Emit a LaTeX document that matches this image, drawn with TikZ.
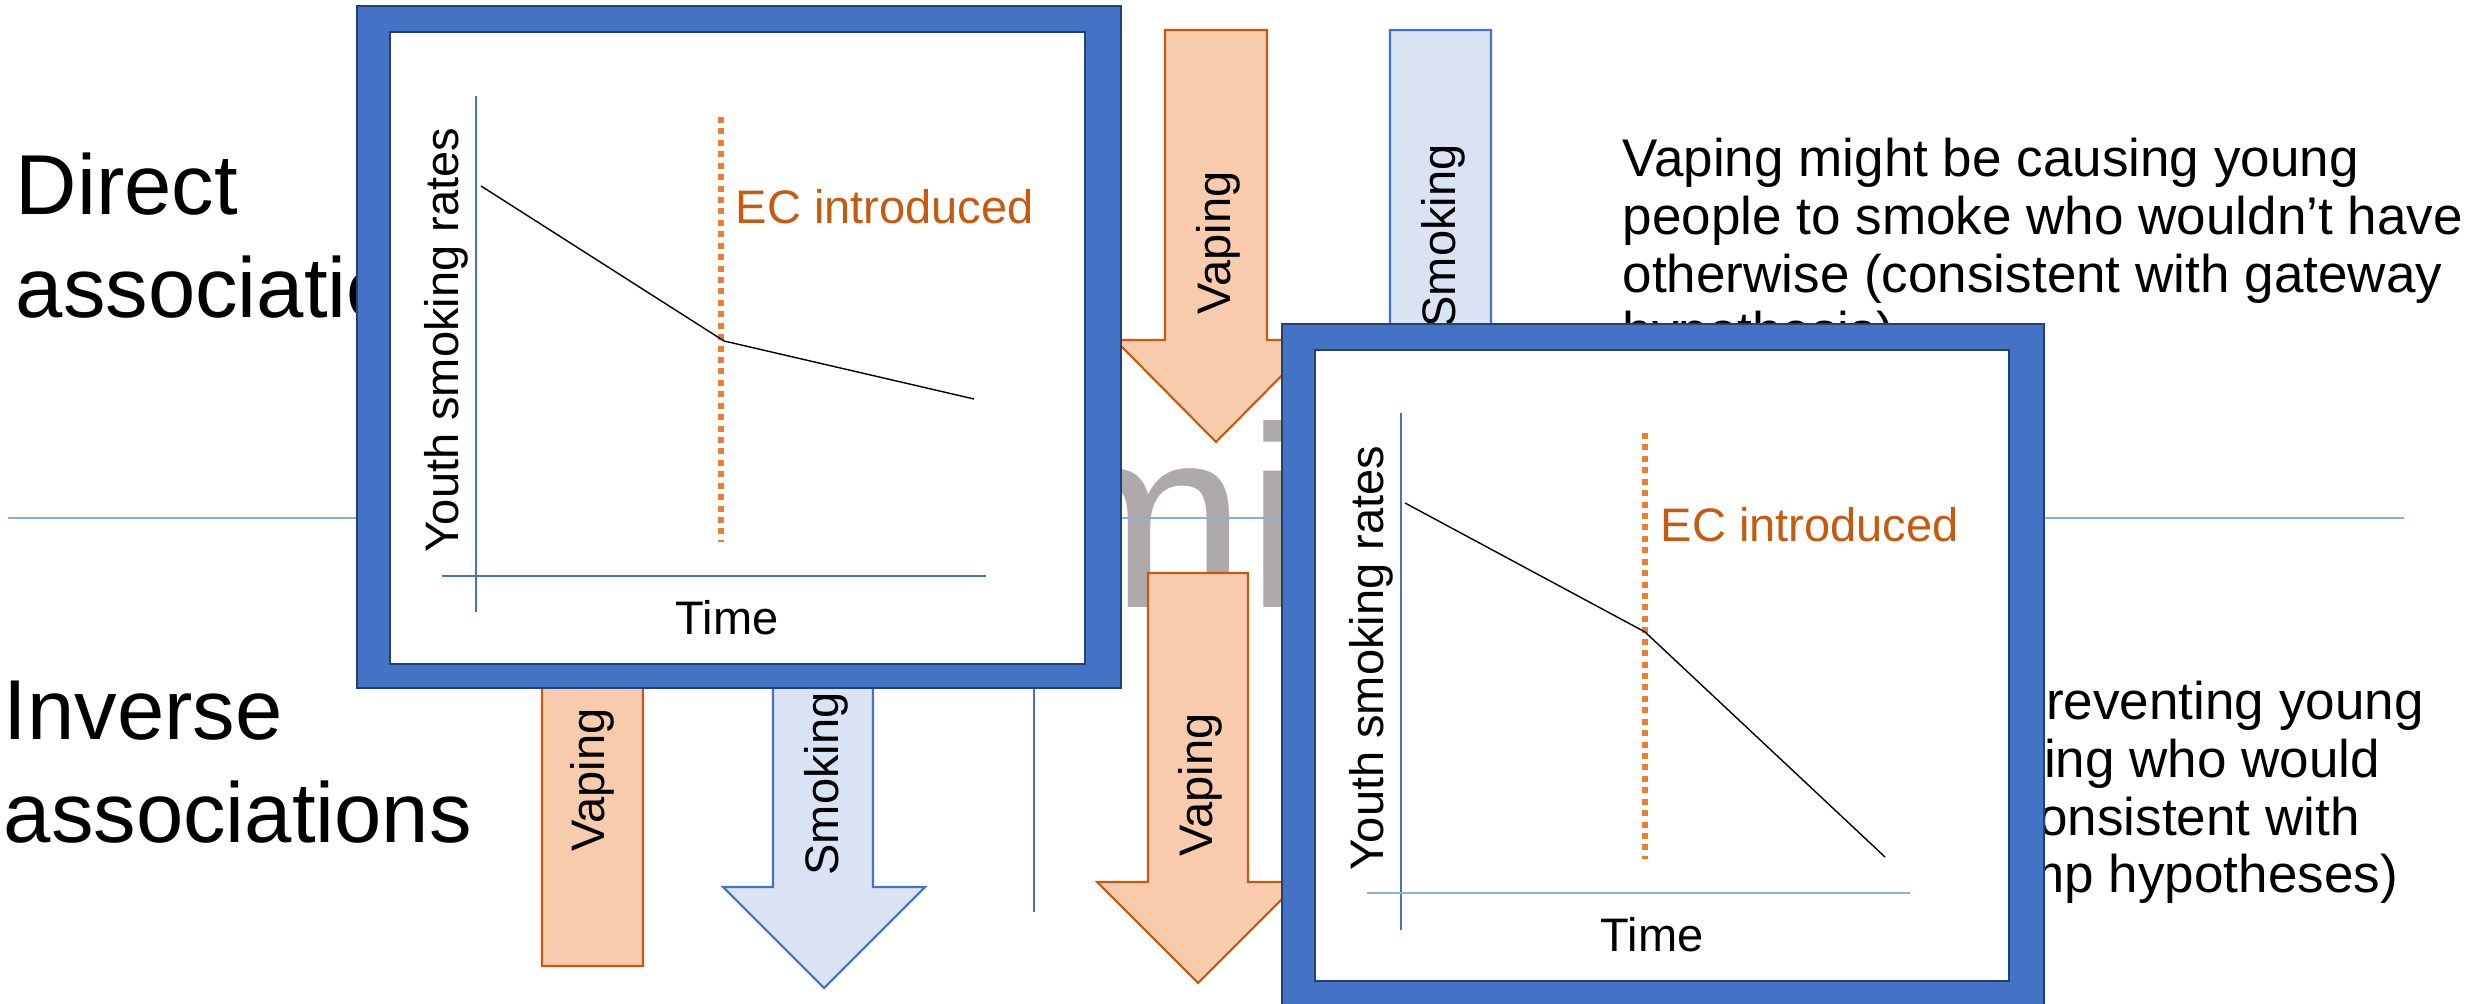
\documentclass[tikz,border=0pt]{standalone}
\usepackage{fontspec}
\setmainfont{Liberation Sans}

\definecolor{frameblue}{HTML}{4472C4}
\definecolor{framedark}{HTML}{24406E}
\definecolor{vapefill}{HTML}{F8CBAD}
\definecolor{vapeline}{HTML}{C55A11}
\definecolor{smokefill}{HTML}{DAE3F3}
\definecolor{smokeline}{HTML}{4472C4}
\definecolor{ecorange}{HTML}{ED7D31}
\definecolor{ecbrown}{HTML}{C55A11}
\definecolor{divblue}{HTML}{8FAADC}
\definecolor{titlegrey}{HTML}{AEAAAA}

\tikzset{
	heading/.style={anchor=base west,inner sep=0,font=\fontsize{24.19pt}{29.02pt}\selectfont},
	remark/.style={anchor=base west,inner sep=0,font=\fontsize{15.08pt}{16.36pt}\selectfont},
	axistext/.style={inner sep=0,font=\fontsize{13.37pt}{16pt}\selectfont},
	ectext/.style={axistext,anchor=west,text=ecbrown},
	arrowtext/.style={axistext,rotate=90},
	vapearrow/.style={fill=vapefill,draw=vapeline,line width=0.6pt},
	smokearrow/.style={fill=smokefill,draw=smokeline,line width=0.6pt},
	frameout/.style={fill=frameblue,draw=framedark,line width=0.8pt},
	framein/.style={fill=white,draw=framedark,line width=0.8pt},
	axisline/.style={draw=frameblue,line width=0.35pt},
	ecline/.style={draw=ecorange,line width=1.7pt,dash pattern=on 1.7pt off 1.55pt},
	trend/.style={draw=black,line width=0.4pt},
	divider/.style={draw=divblue,line width=0.6pt}
}

\begin{document}
\begin{tikzpicture}[x=0.01cm,y=-0.01cm]
	\useasboundingbox (0,0) rectangle (2473,1004);
	% side headings and notes
	\node[heading] (direct) at (15,215) {\parbox[t]{6cm}{Direct\\associations}};
	\node[heading] (inverse) at (3,740) {\parbox[t]{6cm}{Inverse\\associations}};
	\node[remark] (gateway) at (1622,177) {\parbox[t]{9cm}{Vaping might be causing young\\people to smoke who wouldn’t have\\otherwise (consistent with gateway\\hypothesis)}};
	\node[remark] (prevent) at (1622,720) {\parbox[t]{9cm}{Vaping might be preventing young\\people from smoking who would\\have otherwise (consistent with\\diversion and slump hypotheses)}};
	\node[anchor=base west,inner sep=0,text=titlegrey,font=\fontsize{73.4pt}{80pt}\selectfont] (mi) at (1031,608) {mi};
	% dividing lines
	\coordinate (hl) at (8,518);
	\coordinate (hr) at (2404,518);
	\coordinate (vt) at (1034,530);
	\coordinate (vb) at (1034,912);
	\draw[divider] (hl) -- (hr);
	\draw[axisline] (vt) -- (vb);
	% block arrows
	\draw[vapearrow] (1165,30) -- (1267,30) -- (1267,340) -- (1317,340) -- (1216,442) -- (1115,340) -- (1165,340) -- cycle;
	\draw[smokearrow] (1390,30) -- (1491,30) -- (1491,340) -- (1541,340) -- (1440.5,442) -- (1340,340) -- (1390,340) -- cycle;
	\draw[vapearrow] (542,966) -- (643,966) -- (643,658) -- (693,658) -- (592.5,556) -- (492,658) -- (542,658) -- cycle;
	\draw[smokearrow] (773,576) -- (873,576) -- (873,887) -- (925,887) -- (824,988) -- (723,887) -- (773,887) -- cycle;
	\draw[vapearrow] (1148,573) -- (1248,573) -- (1248,882) -- (1299,882) -- (1198,983) -- (1097,882) -- (1148,882) -- cycle;
	\node[arrowtext] (v1) at (1218,243) {Vaping};
	\node[arrowtext] (s1) at (1443,236) {Smoking};
	\node[arrowtext] (v2) at (592,780) {Vaping};
	\node[arrowtext] (s2) at (826,784) {Smoking};
	\node[arrowtext] (v3) at (1200,785) {Vaping};
	% first chart
	\draw[frameout] (357,6) rectangle (1121,688);
	\draw[framein] (390,32) rectangle (1085,664);
	\coordinate (y1a) at (476,96);
	\coordinate (y1b) at (476,612);
	\coordinate (x1a) at (442,576);
	\coordinate (x1b) at (986,576);
	\coordinate (ec1a) at (721,117);
	\coordinate (ec1b) at (721,542);
	\coordinate (d1a) at (481,186);
	\coordinate (d1b) at (724,341);
	\coordinate (d1c) at (974,399);
	\draw[axisline] (y1a) -- (y1b);
	\draw[axisline] (x1a) -- (x1b);
	\draw[ecline] (ec1a) -- (ec1b);
	\draw[trend] (d1a) -- (d1b) -- (d1c);
	\node[axistext,rotate=90] (yl1) at (446,340) {Youth smoking rates};
	\node[axistext] (t1) at (727,618) {Time};
	\node[ectext] (ec1) at (735,207) {EC introduced};
	% second chart
	\draw[frameout] (1282,324) rectangle (2044,1012);
	\draw[framein] (1315,350) rectangle (2009,981);
	\coordinate (y2a) at (1401,413);
	\coordinate (y2b) at (1401,930);
	\coordinate (x2a) at (1367,893);
	\coordinate (x2b) at (1910,893);
	\coordinate (ec2a) at (1645,433);
	\coordinate (ec2b) at (1645,859);
	\coordinate (d2a) at (1405,503);
	\coordinate (d2b) at (1645,632);
	\coordinate (d2c) at (1885,857);
	\draw[axisline] (y2a) -- (y2b);
	\draw[divider] (x2a) -- (x2b);
	\draw[ecline] (ec2a) -- (ec2b);
	\draw[trend] (d2a) -- (d2b) -- (d2c);
	\node[axistext,rotate=90] (yl2) at (1371,658) {Youth smoking rates};
	\node[axistext] (t2) at (1652,935) {Time};
	\node[ectext] (ec2) at (1660,525) {EC introduced};
\end{tikzpicture}
\end{document}
